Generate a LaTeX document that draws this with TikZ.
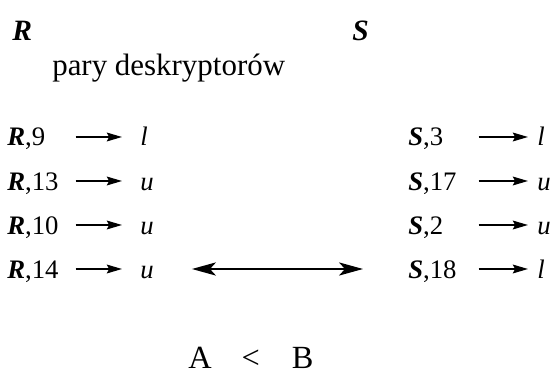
\documentclass[tikz,border=0pt]{standalone}
\usepackage{fontspec}
\setmainfont{Liberation Serif}
\usetikzlibrary{arrows.meta}

\tikzset{
  hdr/.style={anchor=base west, inner sep=0pt, font=\fontsize{21}{24}\selectfont},
  capt/.style={anchor=base west, inner sep=0pt, font=\fontsize{22}{26}\selectfont},
  desc/.style={anchor=base west, inner sep=0pt, text height=0.45cm, text depth=0pt,
    text width=#1, font=\fontsize{19}{22}\selectfont},
  tgt/.style={anchor=base west, inner ysep=0pt, inner xsep=#1, text height=0.45cm,
    text depth=0pt, font=\fontsize{19}{22}\selectfont},
  ptr/.style={-{Stealth[length=0.38cm, width=0.22cm, inset=0.06cm]}, line width=1.2pt},
  both/.style={{Stealth[length=0.6cm, width=0.33cm, inset=0.15cm]}-{Stealth[length=0.6cm, width=0.33cm, inset=0.15cm]},
    line width=1pt},
  cmp/.style={anchor=base west, inner sep=0pt, font=\fontsize{23}{26}\selectfont}
}

\begin{document}
\begin{tikzpicture}[x=0.025cm, y=-0.025cm]
        \useasboundingbox (0,0) rectangle (560,374);
        % relations and caption
        \node[hdr] (relR) at (12,41) {\textbf{\textit{R}}};
        \node[hdr] (relS) at (352,41) {\textbf{\textit{S}}};
        \node[capt] (pary) at (52,76) {pary deskryptorów};
        % descriptor pairs of R
        \node[desc=1.7cm] (r1) at (7,146) {\textbf{\textit{R}},9};
        \node[desc=1.7cm] (r2) at (7,190) {\textbf{\textit{R}},13};
        \node[desc=1.7cm] (r3) at (7,234) {\textbf{\textit{R}},10};
        \node[desc=1.7cm] (r4) at (7,278) {\textbf{\textit{R}},14};
        \node[tgt=0.45cm] (rl1) at (122,146) {\textit{l}};
        \node[tgt=0.45cm] (rl2) at (122,190) {\textit{u}};
        \node[tgt=0.45cm] (rl3) at (122,234) {\textit{u}};
        \node[tgt=0.45cm] (rl4) at (122,278) {\textit{u}};
        \draw[ptr] (r1) -- (rl1);
        \draw[ptr] (r2) -- (rl2);
        \draw[ptr] (r3) -- (rl3);
        \draw[ptr] (r4) -- (rl4);
        % descriptor pairs of S
        \node[desc=1.75cm] (s1) at (408,146) {\textbf{\textit{S}},3};
        \node[desc=1.75cm] (s2) at (408,190) {\textbf{\textit{S}},17};
        \node[desc=1.75cm] (s3) at (408,234) {\textbf{\textit{S}},2};
        \node[desc=1.75cm] (s4) at (408,278) {\textbf{\textit{S}},18};
        \node[tgt=0.225cm] (sl1) at (528,146) {\textit{l}};
        \node[tgt=0.225cm] (sl2) at (528,190) {\textit{u}};
        \node[tgt=0.225cm] (sl3) at (528,234) {\textit{u}};
        \node[tgt=0.225cm] (sl4) at (528,278) {\textit{l}};
        \draw[ptr] (s1) -- (sl1);
        \draw[ptr] (s2) -- (sl2);
        \draw[ptr] (s3) -- (sl3);
        \draw[ptr] (s4) -- (sl4);
        % comparison
        \draw[both, shorten <=0.5cm, shorten >=1.125cm] (rl4) -- (s4);
        \node[cmp] (wynik) at (188,368) {A\hspace{0.75cm}<\hspace{0.8cm}B};
    \end{tikzpicture}
\end{document}
